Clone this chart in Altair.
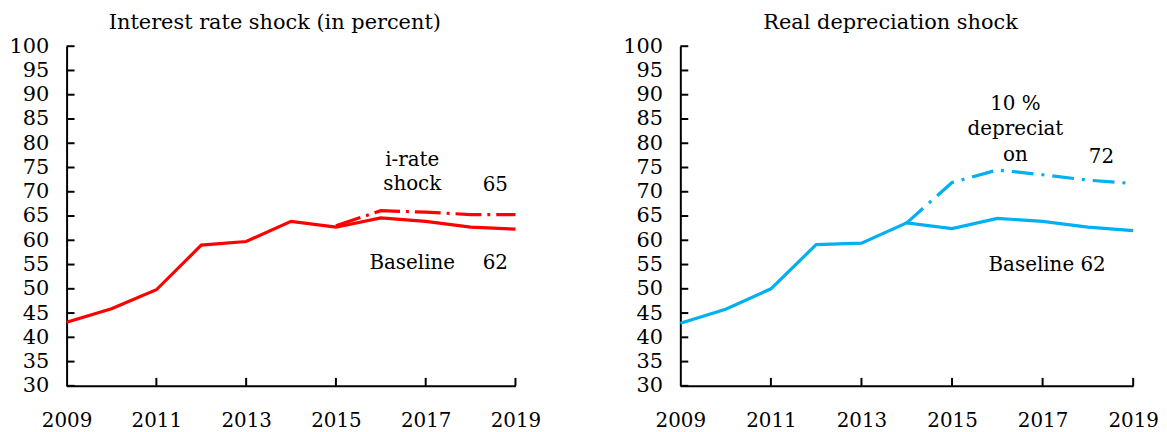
import altair as alt
import pandas as pd

years = list(range(2009, 2020))
base_ir = [43.1, 45.9, 49.8, 59.0, 59.75, 63.9, 62.7, 64.6, 63.9, 62.7, 62.3]
shock_years_ir = [2015, 2016, 2017, 2018, 2019]
shock_ir = [63.0, 66.1, 65.8, 65.3, 65.3]

base_rd = [42.9, 45.8, 50.0, 59.1, 59.4, 63.6, 62.4, 64.5, 63.9, 62.7, 62.0]
shock_years_rd = [2014, 2015, 2016, 2017, 2018, 2019]
shock_rd = [63.6, 71.9, 74.5, 73.5, 72.4, 71.7]

x_ticks = [2009, 2011, 2013, 2015, 2017, 2019]
y_ticks = [30, 35, 40, 45, 50, 55, 60, 65, 70, 75, 80, 85, 90, 95, 100]

notes_ir_text = ["i-rate", "shock", "65", "Baseline", "62"]
notes_ir_x = [2016.7, 2016.7, 2018.55, 2016.7, 2018.55]
notes_ir_y = [76.5, 71.6, 71.4, 55.4, 55.4]

notes_rd_text = ["10 %", "depreciat", "on", "72", "Baseline 62"]
notes_rd_x = [2016.4, 2016.4, 2016.4, 2018.3, 2017.1]
notes_rd_y = [88.1, 83.0, 77.5, 77.1, 55.0]

FONT = "DejaVu Serif"
H = 342


def panel(title, base, sy, shock, color, dash, nt, nx, ny, width):
    xs = alt.Scale(domain=[2009, 2019], nice=False, zero=False)
    ys = alt.Scale(domain=[30, 100], nice=False, zero=False)
    xax = alt.Axis(values=x_ticks, format="d", labelPadding=25, labelFlush=False,
                   labelOverlap=False, title=None, ticks=False, grid=False)
    yax = alt.Axis(values=y_ticks, tickCount=15, labelPadding=18, labelOverlap=False,
                   labelSeparation=0, labelFontSize=21, labelLimit=0,
                   title=None, ticks=False, grid=False)

    dfb = pd.DataFrame({"year": years, "v": base})
    dfs = pd.DataFrame({"year": sy, "v": shock})
    dfn = pd.DataFrame({"t": nt, "x": nx, "y": ny})
    dxt = pd.DataFrame({"year": x_ticks[1:]})
    dyt = pd.DataFrame({"v": y_ticks})

    b = alt.Chart(dfb).mark_line(color=color, strokeWidth=3.2).encode(
        x=alt.X("year:Q", scale=xs, axis=xax),
        y=alt.Y("v:Q", scale=ys, axis=yax),
    )
    s = alt.Chart(dfs).mark_line(color=color, strokeWidth=3.2, strokeDash=dash).encode(
        x=alt.X("year:Q", axis=xax), y=alt.Y("v:Q", axis=yax)
    )
    xt = alt.Chart(dxt).mark_rule(color="black", strokeWidth=2).encode(
        x=alt.X("year:Q", axis=xax), y=alt.datum(30), y2=alt.value(H - 8)
    )
    yt = alt.Chart(dyt).mark_rule(color="black", strokeWidth=2).encode(
        y=alt.Y("v:Q", axis=yax), x=alt.datum(2009), x2=alt.value(8)
    )
    tx = alt.Chart(dfn).mark_text(font=FONT, fontSize=20, color="black").encode(
        x=alt.X("x:Q", axis=xax), y=alt.Y("y:Q", axis=yax), text="t:N"
    )
    return alt.layer(b, s, xt, yt, tx).properties(
        width=width, height=H,
        title=alt.TitleParams(title, font=FONT, fontSize=21, fontWeight="normal",
                              color="black", anchor="middle", frame="bounds", offset=2),
    )


left = panel("Interest rate  shock  (in percent)", base_ir, shock_years_ir, shock_ir,
             "#FF0000", [26, 6, 3, 6], notes_ir_text, notes_ir_x, notes_ir_y, 452)
right = panel("Real depreciation  shock", base_rd, shock_years_rd, shock_rd,
              "#00B0F0", [22, 8, 3, 8], notes_rd_text, notes_rd_x, notes_rd_y, 456)

chart = alt.hconcat(left, right, spacing=81).properties(
    padding={"left": 0, "top": 3, "right": 0, "bottom": 0}
).configure_axis(
    labelFont=FONT, labelFontSize=20, labelColor="black",
    domainColor="black", domainWidth=2, labelOverlap=False,
).configure_view(stroke=None)

chart.save("out.html", embed_options={"renderer": "svg", "actions": False})
